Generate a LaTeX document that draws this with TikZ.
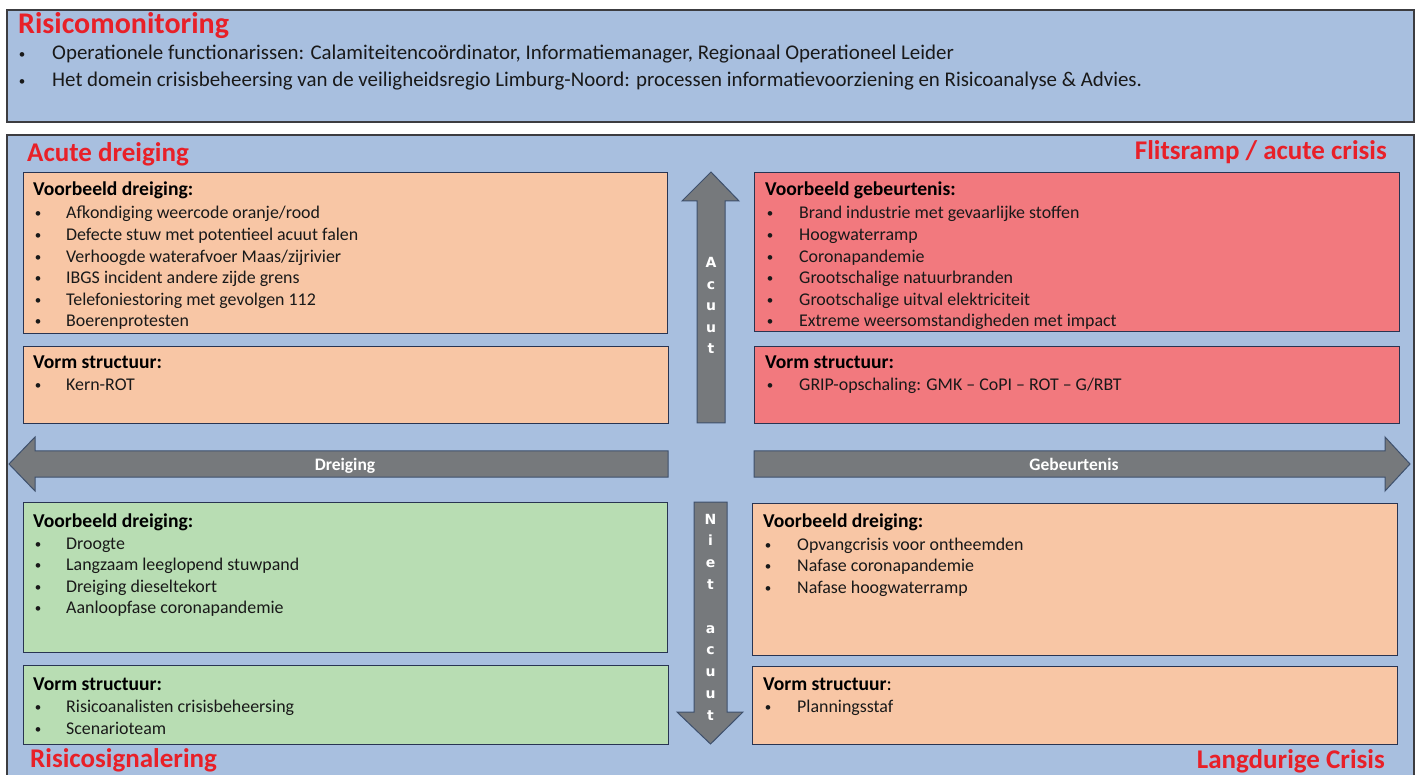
\documentclass[tikz,border=0pt]{standalone}
\usepackage{fontspec}
\setmainfont{Carlito}
\newfontfamily\arrowfont{DejaVu Sans}
\definecolor{bgblue}{RGB}{168,191,223}
\definecolor{peach}{RGB}{248,198,165}
\definecolor{salmon}{RGB}{242,121,126}
\definecolor{mint}{RGB}{184,221,179}
\definecolor{redtxt}{RGB}{232,32,40}
\definecolor{arrowgray}{RGB}{118,121,124}
\definecolor{arrowborder}{RGB}{62,80,108}
\definecolor{panelborder}{RGB}{60,60,64}
\definecolor{cardborder}{RGB}{40,52,82}
\definecolor{textdark}{RGB}{25,25,25}
\newcommand\smbul{{\fontsize{13}{15}\selectfont\textbullet}}
\begin{document}
\begin{tikzpicture}[x=1pt,y=-1pt,
  panel/.style={draw=panelborder,line width=1.2pt,fill=bgblue},
  card/.style={draw=cardborder,line width=0.8pt,inner sep=0pt,anchor=north west},
  redtitle/.style={inner sep=0pt,text=redtxt,font=\fontsize{27}{32}\selectfont\bfseries},
  headtxt/.style={anchor=base west,inner sep=0pt,text=black,font=\fontsize{19.6}{23}\selectfont\bfseries},
  itemtxt/.style={anchor=base west,inner sep=0pt,text=textdark,font=\fontsize{17.9}{21}\selectfont},
  bultxt/.style={anchor=base,inner sep=0pt,text=textdark,font=\fontsize{13}{15}\selectfont},
  toptxt/.style={anchor=base west,inner sep=0pt,text=textdark,font=\fontsize{20.9}{25}\selectfont},
  arrowbody/.style={draw=arrowborder,line width=1pt,fill=arrowgray},
  arrowlbl/.style={anchor=base,inner sep=0pt,text=white,font=\fontsize{17.5}{21}\selectfont\bfseries},
  vletter/.style={anchor=base,inner sep=0pt,text=white,font=\arrowfont\bfseries\fontsize{14}{16}\selectfont}
]
\useasboundingbox (0,0) rectangle (1422,775);
\fill[white] (0,0) rectangle (1422,775);

% panels
\path[panel] (7,10) rectangle (1414,122);
\path[panel] (7,135) rectangle (1414,779);

% top panel text
\node[redtitle,anchor=base west,font=\fontsize{30}{36}\selectfont\bfseries] (tmon) at (18,34) {Risicomonitoring};
\node[bultxt] (tb1) at (22,59) {\textbullet};
\node[toptxt] (tt1) at (52,60) {Operationele functionarissen: Calamiteitencoördinator, Informatiemanager, Regionaal Operationeel Leider};
\node[bultxt] (tb2) at (22,86) {\textbullet};
\node[toptxt] (tt2) at (52,87) {Het domein crisisbeheersing van de veiligheidsregio Limburg-Noord: processen informatievoorziening en Risicoanalyse \& Advies.};

% quadrant titles
\node[redtitle,anchor=base west] (tacute) at (27,162) {Acute dreiging};
\node[redtitle,anchor=base east] (tflits) at (1387,160) {Flitsramp / acute crisis};
\node[redtitle,anchor=base west] (tsign) at (30,767) {Risicosignalering};
\node[redtitle,anchor=base east] (tlang) at (1385,768) {Langdurige Crisis};

% cards
\node[card,fill=peach,minimum width=644pt,minimum height=161pt] (tl1) at (23,172) {};
\node[card,fill=peach,minimum width=645pt,minimum height=77pt] (tl2) at (23,346) {};
\node[card,fill=salmon,minimum width=645pt,minimum height=159pt] (tr1) at (754,172) {};
\node[card,fill=salmon,minimum width=645pt,minimum height=77pt] (tr2) at (754,346) {};
\node[card,fill=mint,minimum width=644pt,minimum height=150pt] (bl1) at (23,502) {};
\node[card,fill=mint,minimum width=645pt,minimum height=79pt] (bl2) at (23,665) {};
\node[card,fill=peach,minimum width=645pt,minimum height=152pt] (br1) at (752,503) {};
\node[card,fill=peach,minimum width=645pt,minimum height=78pt] (br2) at (752,666) {};

% card texts: top left
\node[headtxt] (tl1h) at (33,196) {Voorbeeld dreiging:};
\foreach \t [count=\k] in {Afkondiging weercode oranje/rood,Defecte stuw met potentieel acuut falen,Verhoogde waterafvoer Maas/zijrivier,IBGS incident andere zijde grens,Telefoniestoring met gevolgen 112,Boerenprotesten}{
  \node[bultxt] (tl1b\k) at (38,{218+21.6*(\k-1)}) {\textbullet};
  \node[itemtxt] (tl1i\k) at (66,{219+21.6*(\k-1)}) {\t};
}
\node[headtxt] (tl2h) at (33,369) {Vorm structuur:};
\node[bultxt] (tl2b1) at (38,390) {\textbullet};
\node[itemtxt] (tl2i1) at (66,391) {Kern-ROT};

% top right
\node[headtxt] (tr1h) at (765,196) {Voorbeeld gebeurtenis:};
\foreach \t [count=\k] in {Brand industrie met gevaarlijke stoffen,Hoogwaterramp,Coronapandemie,Grootschalige natuurbranden,Grootschalige uitval elektriciteit,Extreme weersomstandigheden met impact}{
  \node[bultxt] (tr1b\k) at (770,{218+21.6*(\k-1)}) {\textbullet};
  \node[itemtxt] (tr1i\k) at (799,{219+21.6*(\k-1)}) {\t};
}
\node[headtxt] (tr2h) at (765,369) {Vorm structuur:};
\node[bultxt] (tr2b1) at (770,390) {\textbullet};
\node[itemtxt] (tr2i1) at (799,391) {GRIP-opschaling: GMK – CoPI – ROT – G/RBT};

% bottom left
\node[headtxt] (bl1h) at (33,527) {Voorbeeld dreiging:};
\foreach \t [count=\k] in {Droogte,Langzaam leeglopend stuwpand,Dreiging dieseltekort,Aanloopfase coronapandemie}{
  \node[bultxt] (bl1b\k) at (38,{548+21.6*(\k-1)}) {\textbullet};
  \node[itemtxt] (bl1i\k) at (66,{549+21.6*(\k-1)}) {\t};
}
\node[headtxt] (bl2h) at (33,690) {Vorm structuur:};
\foreach \t [count=\k] in {Risicoanalisten crisisbeheersing,Scenarioteam}{
  \node[bultxt] (bl2b\k) at (38,{711+22*(\k-1)}) {\textbullet};
  \node[itemtxt] (bl2i\k) at (66,{712+22*(\k-1)}) {\t};
}

% bottom right
\node[headtxt] (br1h) at (763,527) {Voorbeeld dreiging:};
\foreach \t [count=\k] in {Opvangcrisis voor ontheemden,Nafase coronapandemie,Nafase hoogwaterramp}{
  \node[bultxt] (br1b\k) at (768,{549+21.6*(\k-1)}) {\textbullet};
  \node[itemtxt] (br1i\k) at (797,{550+21.6*(\k-1)}) {\t};
}
\node[headtxt] (br2h) at (763,690) {Vorm structuur\mdseries:};
\node[bultxt] (br2b1) at (768,711) {\textbullet};
\node[itemtxt] (br2i1) at (797,712) {Planningsstaf};

% horizontal arrows
\path[arrowbody] (9,464) -- (35,437) -- (35,451) -- (668,451) -- (668,477) -- (35,477) -- (35,491) -- cycle;
\node[arrowlbl] (ldrei) at (345,470) {Dreiging};
\path[arrowbody] (754,451) -- (1385,451) -- (1385,437) -- (1410,464) -- (1385,491) -- (1385,477) -- (754,477) -- cycle;
\node[arrowlbl] (lgeb) at (1074,470) {Gebeurtenis};

% vertical arrows
\path[arrowbody] (711,172) -- (739,201) -- (725,201) -- (725,423) -- (697,423) -- (697,201) -- (682,201) -- cycle;
\foreach \c [count=\k] in {A,c,u,u,t}{
  \node[vletter] (lac\k) at (711,{268+21.5*(\k-1)}) {\c};
}
\path[arrowbody] (694,502) -- (727,502) -- (727,712) -- (743,712) -- (710.5,744) -- (677,712) -- (694,712) -- cycle;
\foreach \c [count=\k] in {N,i,e,t,{},a,c,u,u,t}{
  \node[vletter] (lna\k) at (710.5,{524+21.8*(\k-1)}) {\c};
}
\end{tikzpicture}
\end{document}
